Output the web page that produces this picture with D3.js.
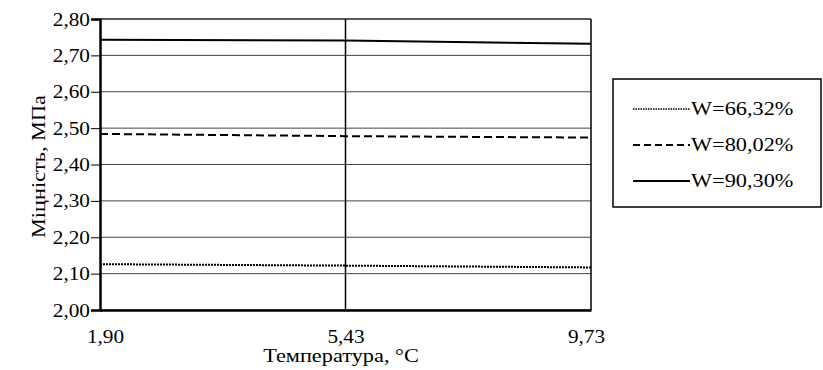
<!DOCTYPE html>
<html>
<head>
<meta charset="utf-8">
<script src="https://cdn.jsdelivr.net/npm/d3@7"></script>
<style>
  body { margin: 0; background: #fff; }
  text { font-family: "Liberation Serif", "Times New Roman", serif; fill: #000; }
</style>
</head>
<body>
<div id="chart"></div>
<script>
// categories on the x axis (temperature, °C)
const temps = ["1,90", "5,43", "9,73"];
// strength, MPa, one array per moisture level
const w6632 = [2.126, 2.122, 2.117];
const w8002 = [2.484, 2.478, 2.474];
const w9030 = [2.743, 2.741, 2.732];
const seriesNames = ["W=66,32%", "W=80,02%", "W=90,30%"];
const yTicks = [2.0, 2.1, 2.2, 2.3, 2.4, 2.5, 2.6, 2.7, 2.8];

const margin = {top: 19, right: 232, bottom: 60, left: 100},
    width = 823 - margin.left - margin.right,
    height = 370 - margin.top - margin.bottom;

const stretch = "scale(1.24,1)";
const tickStretch = "scale(1.12,1)";
const fmt = d => d.toFixed(2).replace(".", ",");

let svg = d3.select("#chart").append("svg")
    .attr("width", 823)
    .attr("height", 370);

let g = svg.append("g")
    .attr("transform", "translate(" + margin.left + "," + margin.top + ")");

let xScale = d3.scalePoint()
    .domain(temps)
    .range([0, width]);

let yScale = d3.scaleLinear()
    .domain([2.0, 2.8])
    .range([height, 0]);

// horizontal grid
g.append("g")
    .selectAll("line")
    .data(yTicks)
    .enter().append("line")
    .attr("x1", 0).attr("x2", width)
    .attr("y1", d => yScale(d)).attr("y2", d => yScale(d))
    .attr("stroke", d => d === 2.8 ? "#222" : "#444")
    .attr("stroke-width", d => d === 2.8 ? 1.5 : 1);

// vertical grid at inner categories + right border
g.append("g")
    .selectAll("line")
    .data(temps.slice(1))
    .enter().append("line")
    .attr("x1", d => xScale(d)).attr("x2", d => xScale(d))
    .attr("y1", 0).attr("y2", height)
    .attr("stroke", "#000")
    .attr("stroke-width", 1.5);

let series = [
  {name: seriesNames[0], values: w6632, dash: "2,1", width: 2},
  {name: seriesNames[1], values: w8002, dash: "8,4", width: 2},
  {name: seriesNames[2], values: w9030, dash: null, width: 2}
];

let line = d3.line()
    .x((d, i) => xScale(temps[i]))
    .y(d => yScale(d));

g.selectAll(".series")
    .data(series)
    .enter().append("path")
    .attr("class", "series")
    .attr("d", d => line(d.values))
    .attr("fill", "none")
    .attr("stroke", "#000")
    .attr("stroke-width", d => d.width)
    .attr("stroke-dasharray", d => d.dash);

// axes
let yAxis = d3.axisLeft(yScale).tickValues(yTicks).tickFormat(fmt).tickSize(9).tickPadding(2);
let yAxis_g = g.append("g").attr("class", "y axis").call(yAxis);
yAxis_g.select(".domain").attr("stroke-width", 2.5);
yAxis_g.selectAll("text")
    .attr("font-size", 19)
    .attr("transform", tickStretch)
    .attr("x", -10 / 1.12);

let xAxis = d3.axisBottom(xScale).tickSize(0).tickPadding(20);
let xAxis_g = g.append("g").attr("class", "x axis")
    .attr("transform", "translate(0," + height + ")")
    .call(xAxis);
xAxis_g.select(".domain").attr("stroke-width", 2.5);
xAxis_g.selectAll(".tick").each(function(d, i) {
  let t = d3.select(this).select("text");
  let shift = i === 0 ? 5 : (i === temps.length - 1 ? -5 : 0);
  t.attr("font-size", 19)
   .attr("x", shift / 1.12)
   .attr("transform", tickStretch);
});

// axis titles
svg.append("text")
    .attr("transform", "translate(45," + (margin.top + height / 2 + 2) + ") rotate(-90) " + stretch)
    .attr("text-anchor", "middle")
    .attr("font-size", 18)
    .text("Міцність, МПа");

svg.append("text")
    .attr("transform", "translate(341,362) " + stretch)
    .attr("text-anchor", "middle")
    .attr("font-size", 18)
    .text("Температура, °C");

// legend
let legend = svg.append("g").attr("transform", "translate(613,79)");
legend.append("rect")
    .attr("width", 208).attr("height", 128)
    .attr("fill", "#fff").attr("stroke", "#000").attr("stroke-width", 1.5);

let item = legend.selectAll(".item")
    .data(series)
    .enter().append("g")
    .attr("class", "item")
    .attr("transform", (d, i) => "translate(0," + (30 + i * 36) + ")");

item.append("line")
    .attr("x1", 20).attr("x2", 77)
    .attr("stroke", "#000")
    .attr("stroke-width", d => d.dash === "2,1" ? 1.5 : 2)
    .attr("stroke-dasharray", d => d.dash === "2,1" ? "1.5,1" : (d.dash ? "7,4" : null));

item.append("text")
    .attr("transform", "translate(78,0) " + stretch)
    .attr("dy", "0.35em")
    .attr("font-size", 18)
    .text(d => d.name);
</script>
</body>
</html>
